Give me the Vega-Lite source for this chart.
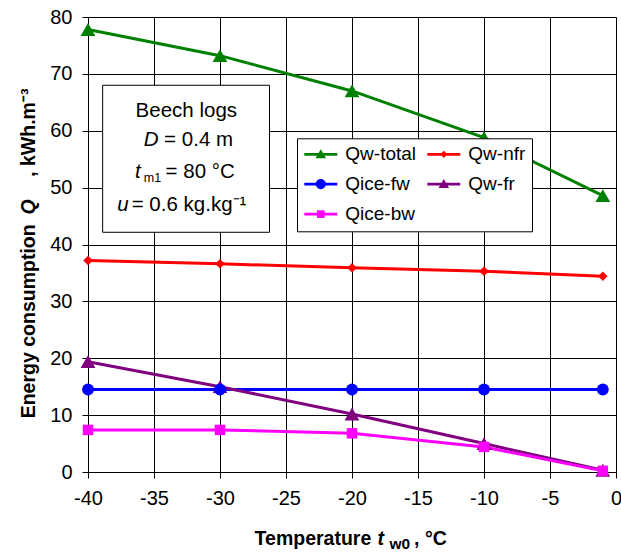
{
  "$schema": "https://vega.github.io/schema/vega-lite/v6.json",
  "width": 528,
  "height": 455,
  "autosize": {"type": "none"},
  "padding": {"left": 88, "top": 17, "right": 5, "bottom": 80},
  "background": "white",
  "config": {
    "font": "Liberation Sans",
    "view": {"stroke": null},
    "axis": {
      "grid": true,
      "gridColor": "#000000",
      "gridOpacity": 1,
      "gridWidth": 1,
      "domainColor": "#000000",
      "domainWidth": 1,
      "tickColor": "#000000",
      "tickSize": 6,
      "labelFont": "Liberation Sans",
      "labelFontSize": 20,
      "labelColor": "#000000",
      "labelOverlap": false,
      "labelFlush": false,
      "labelExpr": "'' + datum.value",
      "title": null
    }
  },
  "data": {
    "values": [
      {"T": -40, "Q": 77.8, "series": "Qw-total"},
      {"T": -30, "Q": 73.2, "series": "Qw-total"},
      {"T": -20, "Q": 67.0, "series": "Qw-total"},
      {"T": -10, "Q": 58.8, "series": "Qw-total"},
      {"T": -1, "Q": 48.6, "series": "Qw-total"},
      {"T": -40, "Q": 37.2, "series": "Qw-nfr"},
      {"T": -30, "Q": 36.6, "series": "Qw-nfr"},
      {"T": -20, "Q": 35.9, "series": "Qw-nfr"},
      {"T": -10, "Q": 35.3, "series": "Qw-nfr"},
      {"T": -1, "Q": 34.4, "series": "Qw-nfr"},
      {"T": -40, "Q": 14.5, "series": "Qice-fw"},
      {"T": -30, "Q": 14.5, "series": "Qice-fw"},
      {"T": -20, "Q": 14.5, "series": "Qice-fw"},
      {"T": -10, "Q": 14.5, "series": "Qice-fw"},
      {"T": -1, "Q": 14.5, "series": "Qice-fw"},
      {"T": -40, "Q": 19.4, "series": "Qw-fr"},
      {"T": -30, "Q": 15.0, "series": "Qw-fr"},
      {"T": -20, "Q": 10.2, "series": "Qw-fr"},
      {"T": -10, "Q": 5.0, "series": "Qw-fr"},
      {"T": -1, "Q": 0.3, "series": "Qw-fr"},
      {"T": -40, "Q": 7.4, "series": "Qice-bw"},
      {"T": -30, "Q": 7.4, "series": "Qice-bw"},
      {"T": -20, "Q": 6.8, "series": "Qice-bw"},
      {"T": -10, "Q": 4.4, "series": "Qice-bw"},
      {"T": -1, "Q": 0.2, "series": "Qice-bw"}
    ]
  },
  "layer": [
    {
      "encoding": {
        "x": {"field": "T", "type": "quantitative", "scale": {"domain": [-40, 0], "nice": false, "zero": false}, "axis": {"values": [-40, -35, -30, -25, -20, -15, -10, -5, 0], "labelPadding": 10}},
        "y": {"field": "Q", "type": "quantitative", "scale": {"domain": [0, 80], "nice": false}, "axis": {"values": [0, 10, 20, 30, 40, 50, 60, 70, 80], "labelPadding": 10}},
        "color": {
          "field": "series",
          "type": "nominal",
          "scale": {"domain": ["Qw-total", "Qw-nfr", "Qice-fw", "Qw-fr", "Qice-bw"], "range": ["#008000", "#ff0000", "#0000ff", "#800080", "#ff00ff"]},
          "legend": null
        }
      },
      "layer": [
        {"mark": {"type": "line", "strokeWidth": 3}},
        {
          "transform": [{"filter": {"field": "series", "oneOf": ["Qw-total", "Qw-fr"]}}],
          "mark": {"type": "point", "shape": "triangle-up", "size": 220, "filled": true, "opacity": 1}
        },
        {
          "transform": [{"filter": {"field": "series", "equal": "Qice-fw"}}],
          "mark": {"type": "point", "shape": "circle", "size": 140, "filled": true, "opacity": 1}
        },
        {
          "transform": [{"filter": {"field": "series", "equal": "Qw-nfr"}}],
          "mark": {"type": "point", "shape": "diamond", "size": 90, "filled": true, "opacity": 1}
        },
        {
          "transform": [{"filter": {"field": "series", "equal": "Qice-bw"}}],
          "mark": {"type": "point", "shape": "square", "size": 110, "filled": true, "opacity": 1}
        }
      ]
    },
    {
      "mark": {"type": "point", "filled": true, "opacity": 0, "size": 289, "strokeWidth": 0},
      "encoding": {
        "x": {"field": "T", "type": "quantitative"},
        "y": {"field": "Q", "type": "quantitative"},
        "fill": {
          "field": "series",
          "type": "nominal",
          "scale": {"domain": ["Qw-total", "Qice-fw", "Qice-bw", "Qw-nfr", "Qw-fr"], "range": ["#008000", "#0000ff", "#ff00ff", "#ff0000", "#800080"]},
          "legend": {
            "orient": "none",
            "legendX": 209,
            "legendY": 121.3,
            "title": null,
            "columns": 2,
            "gridAlign": "all",
            "labelFont": "Liberation Sans",
            "labelFontSize": 19,
            "labelColor": "#000000",
            "labelLimit": 300,
            "symbolSize": 289,
            "symbolStrokeWidth": 0,
            "symbolOpacity": 1,
            "labelOffset": 23,
            "rowPadding": 10,
            "columnPadding": 10,
            "padding": 6.3,
            "strokeColor": "#000000",
            "fillColor": "#ffffff"
          }
        },
        "shape": {
          "field": "series",
          "type": "nominal",
          "scale": {
            "domain": ["Qw-total", "Qice-fw", "Qice-bw", "Qw-nfr", "Qw-fr"],
            "range": [
              "M-1,-0.17H2.88V0.17H-1ZM0.94,-0.6L1.56,0.45L0.32,0.45Z",
              "M-1,-0.17H2.88V0.17H-1ZM0.34,0A0.6,0.6 0 1,1 1.54,0A0.6,0.6 0 1,1 0.34,0Z",
              "M-1,-0.17H2.88V0.17H-1ZM0.49,-0.45H1.39V0.45H0.49Z",
              "M-1,-0.17H2.88V0.17H-1ZM0.94,-0.42L1.36,0L0.94,0.42L0.52,0Z",
              "M-1,-0.17H2.88V0.17H-1ZM0.94,-0.6L1.56,0.45L0.32,0.45Z"
            ]
          },
          "legend": {
            "orient": "none",
            "legendX": 209,
            "legendY": 121.3,
            "title": null,
            "columns": 2,
            "gridAlign": "all",
            "labelFont": "Liberation Sans",
            "labelFontSize": 19,
            "labelColor": "#000000",
            "labelLimit": 300,
            "symbolSize": 289,
            "symbolStrokeWidth": 0,
            "symbolOpacity": 1,
            "labelOffset": 23,
            "rowPadding": 10,
            "columnPadding": 10,
            "padding": 6.3,
            "strokeColor": "#000000",
            "fillColor": "#ffffff"
          }
        }
      }
    },
    {
      "data": {"values": [{}]},
      "mark": {"type": "rect", "fill": "#ffffff", "stroke": "#000000", "strokeWidth": 1},
      "encoding": {
        "x": {"datum": -38.89, "type": "quantitative"},
        "x2": {"datum": -26.25},
        "y": {"datum": 68.0, "type": "quantitative"},
        "y2": {"datum": 42.15}
      }
    },
    {
      "data": {"values": [{}]},
      "mark": {"type": "text", "text": "Beech logs", "align": "center", "baseline": "alphabetic", "fontSize": 20.5, "font": "Liberation Sans", "color": "#000000"},
      "encoding": {"x": {"datum": -32.55, "type": "quantitative"}, "y": {"datum": 62.37, "type": "quantitative"}}
    },
    {
      "data": {"values": [{}]},
      "mark": {"type": "text", "text": "D", "align": "right", "baseline": "alphabetic", "fontSize": 20.5, "fontStyle": "italic", "font": "Liberation Sans", "color": "#000000"},
      "encoding": {"x": {"datum": -34.65, "type": "quantitative"}, "y": {"datum": 57.27, "type": "quantitative"}}
    },
    {
      "data": {"values": [{}]},
      "mark": {"type": "text", "text": "= 0.4 m", "align": "left", "baseline": "alphabetic", "dx": 5.5, "fontSize": 20.5, "font": "Liberation Sans", "color": "#000000"},
      "encoding": {"x": {"datum": -34.65, "type": "quantitative"}, "y": {"datum": 57.27, "type": "quantitative"}}
    },
    {
      "data": {"values": [{}]},
      "mark": {"type": "text", "text": "t", "align": "right", "baseline": "alphabetic", "fontSize": 20.5, "fontStyle": "italic", "font": "Liberation Sans", "color": "#000000"},
      "encoding": {"x": {"datum": -36.01, "type": "quantitative"}, "y": {"datum": 51.76, "type": "quantitative"}}
    },
    {
      "data": {"values": [{}]},
      "mark": {"type": "text", "text": "m1", "align": "left", "baseline": "alphabetic", "fontSize": 12.5, "font": "Liberation Sans", "color": "#000000"},
      "encoding": {"x": {"datum": -35.77, "type": "quantitative"}, "y": {"datum": 50.99, "type": "quantitative"}}
    },
    {
      "data": {"values": [{}]},
      "mark": {"type": "text", "text": "= 80 °C", "align": "left", "baseline": "alphabetic", "fontSize": 20.5, "font": "Liberation Sans", "color": "#000000"},
      "encoding": {"x": {"datum": -34.12, "type": "quantitative"}, "y": {"datum": 51.76, "type": "quantitative"}}
    },
    {
      "data": {"values": [{}]},
      "mark": {"type": "text", "text": "u", "align": "right", "baseline": "alphabetic", "fontSize": 20.5, "fontStyle": "italic", "font": "Liberation Sans", "color": "#000000"},
      "encoding": {"x": {"datum": -36.92, "type": "quantitative"}, "y": {"datum": 45.89, "type": "quantitative"}}
    },
    {
      "data": {"values": [{}]},
      "mark": {"type": "text", "text": "= 0.6 kg.kg⁻¹", "align": "left", "baseline": "alphabetic", "fontSize": 20.5, "font": "Liberation Sans", "color": "#000000"},
      "encoding": {"x": {"datum": -36.69, "type": "quantitative"}, "y": {"datum": 45.89, "type": "quantitative"}}
    },
    {
      "data": {"values": [{}]},
      "mark": {"type": "text", "text": "Temperature", "align": "left", "baseline": "alphabetic", "fontSize": 19.5, "fontWeight": "bold", "font": "Liberation Sans", "color": "#000000"},
      "encoding": {"x": {"datum": -27.38, "type": "quantitative"}, "y": {"datum": -12.89, "type": "quantitative"}}
    },
    {
      "data": {"values": [{}]},
      "mark": {"type": "text", "text": "t", "align": "left", "baseline": "alphabetic", "fontSize": 19.5, "fontWeight": "bold", "fontStyle": "italic", "font": "Liberation Sans", "color": "#000000"},
      "encoding": {"x": {"datum": -18.07, "type": "quantitative"}, "y": {"datum": -12.89, "type": "quantitative"}}
    },
    {
      "data": {"values": [{}]},
      "mark": {"type": "text", "text": "w0", "align": "left", "baseline": "alphabetic", "fontSize": 15.5, "fontWeight": "bold", "font": "Liberation Sans", "color": "#000000"},
      "encoding": {"x": {"datum": -17.16, "type": "quantitative"}, "y": {"datum": -13.59, "type": "quantitative"}}
    },
    {
      "data": {"values": [{}]},
      "mark": {"type": "text", "text": ", °C", "align": "left", "baseline": "alphabetic", "fontSize": 19.5, "fontWeight": "bold", "font": "Liberation Sans", "color": "#000000"},
      "encoding": {"x": {"datum": -15.3, "type": "quantitative"}, "y": {"datum": -12.89, "type": "quantitative"}}
    },
    {
      "data": {"values": [{}]},
      "mark": {"type": "text", "text": "Energy consumption", "angle": 270, "align": "left", "baseline": "alphabetic", "fontSize": 19.5, "fontWeight": "bold", "font": "Liberation Sans", "color": "#000000"},
      "encoding": {"x": {"datum": -44.03, "type": "quantitative"}, "y": {"datum": 9.44, "type": "quantitative"}}
    },
    {
      "data": {"values": [{}]},
      "mark": {"type": "text", "text": "Q", "angle": 270, "align": "left", "baseline": "alphabetic", "fontSize": 19.5, "fontWeight": "bold", "fontStyle": "italic", "font": "Liberation Sans", "color": "#000000"},
      "encoding": {"x": {"datum": -44.03, "type": "quantitative"}, "y": {"datum": 45.27, "type": "quantitative"}}
    },
    {
      "data": {"values": [{}]},
      "mark": {"type": "text", "text": ", kWh.m⁻³", "angle": 270, "align": "left", "baseline": "alphabetic", "fontSize": 19.5, "fontWeight": "bold", "font": "Liberation Sans", "color": "#000000"},
      "encoding": {"x": {"datum": -44.03, "type": "quantitative"}, "y": {"datum": 51.9, "type": "quantitative"}}
    }
  ]
}
